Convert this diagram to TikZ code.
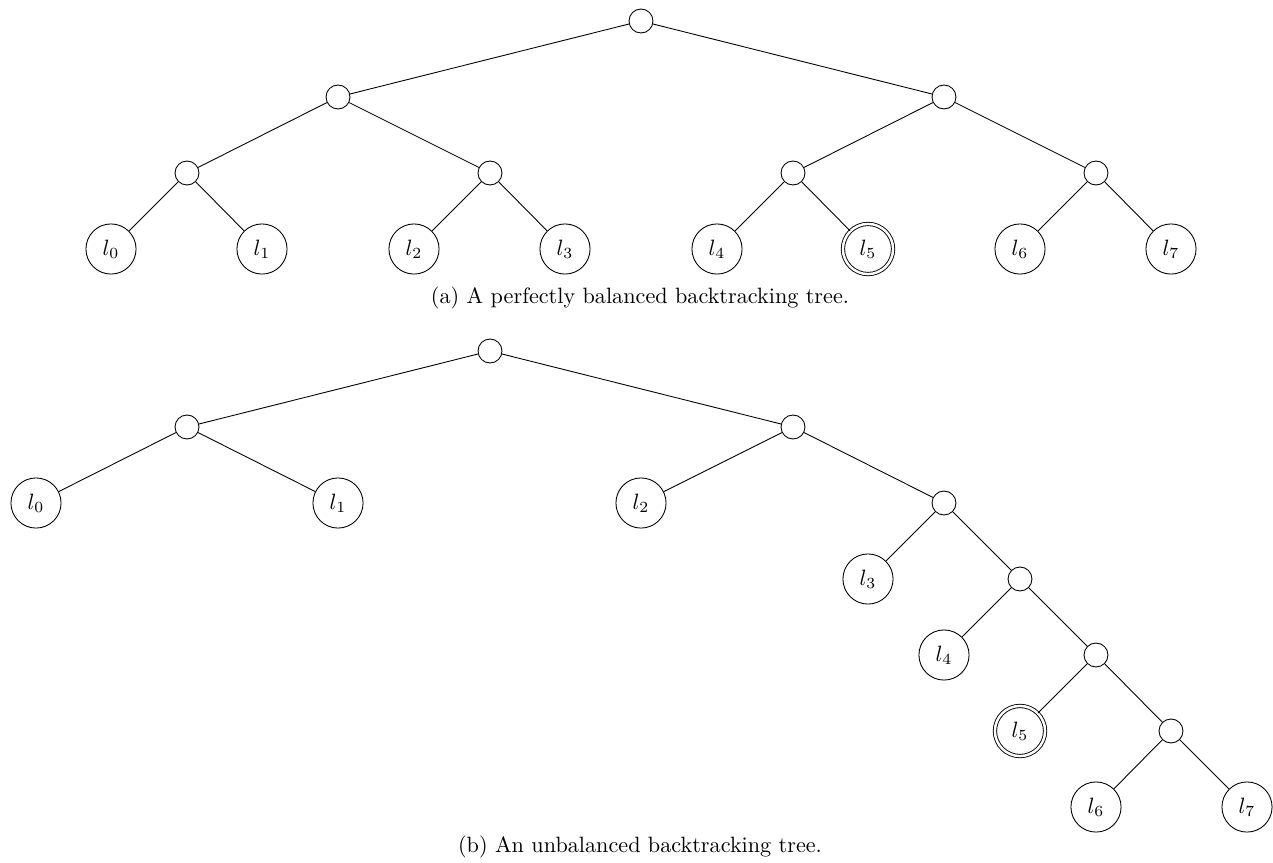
\documentclass[tikz,border=0pt]{standalone}
\begin{document}
\begin{tikzpicture}[x=0.4507pt,y=-0.4507pt,
  inode/.style={circle,draw,inner sep=0pt,minimum size=10.8pt},
  leaf/.style={circle,draw,inner sep=0pt,minimum size=22.6pt},
  goal/.style={leaf,double,double distance=1.1pt},
  edge/.style={draw}]
\useasboundingbox (0,0) rectangle (1273,863);
% ---- tree (a)
\node[inode] (a)   at (641,21) {};
\node[inode] (a0)  at (338,97) {};
\node[inode] (a1)  at (944,97) {};
\node[inode] (a00) at (187,173) {};
\node[inode] (a01) at (490,173) {};
\node[inode] (a10) at (793,173) {};
\node[inode] (a11) at (1096,173) {};
\node[leaf] (al0) at (111,249) {$l_0$};
\node[leaf] (al1) at (262,249) {$l_1$};
\node[leaf] (al2) at (414,249) {$l_2$};
\node[leaf] (al3) at (565,249) {$l_3$};
\node[leaf] (al4) at (717,249) {$l_4$};
\node[goal] (al5) at (868,249) {$l_5$};
\node[leaf] (al6) at (1020,249) {$l_6$};
\node[leaf] (al7) at (1171,249) {$l_7$};
\draw (a) -- (a0); \draw (a) -- (a1);
\draw (a0) -- (a00); \draw (a0) -- (a01);
\draw (a1) -- (a10); \draw (a1) -- (a11);
\draw (a00) -- (al0); \draw (a00) -- (al1);
\draw (a01) -- (al2); \draw (a01) -- (al3);
\draw (a10) -- (al4); \draw (a10) -- (al5);
\draw (a11) -- (al6); \draw (a11) -- (al7);
\node[anchor=base] (capa) at (640,303) {(a) A perfectly balanced backtracking tree.};
% ---- tree (b)
\node[inode] (b)     at (490,351) {};
\node[inode] (b0)    at (187,427) {};
\node[inode] (b1)    at (793,427) {};
\node[leaf]  (bl0)   at (36,503) {$l_0$};
\node[leaf]  (bl1)   at (338,503) {$l_1$};
\node[leaf]  (bl2)   at (641,503) {$l_2$};
\node[inode] (b11)   at (944,503) {};
\node[leaf]  (bl3)   at (868,579) {$l_3$};
\node[inode] (b111)  at (1020,579) {};
\node[leaf]  (bl4)   at (944,655) {$l_4$};
\node[inode] (b1111) at (1096,655) {};
\node[goal]  (bl5)   at (1020,731) {$l_5$};
\node[inode] (b11111) at (1171,731) {};
\node[leaf]  (bl6)   at (1096,807) {$l_6$};
\node[leaf]  (bl7)   at (1247,807) {$l_7$};
\draw (b) -- (b0); \draw (b) -- (b1);
\draw (b0) -- (bl0); \draw (b0) -- (bl1);
\draw (b1) -- (bl2); \draw (b1) -- (b11);
\draw (b11) -- (bl3); \draw (b11) -- (b111);
\draw (b111) -- (bl4); \draw (b111) -- (b1111);
\draw (b1111) -- (bl5); \draw (b1111) -- (b11111);
\draw (b11111) -- (bl6); \draw (b11111) -- (bl7);
\node[anchor=base] (capb) at (640,852) {(b) An unbalanced backtracking tree.};
\end{tikzpicture}
\end{document}
